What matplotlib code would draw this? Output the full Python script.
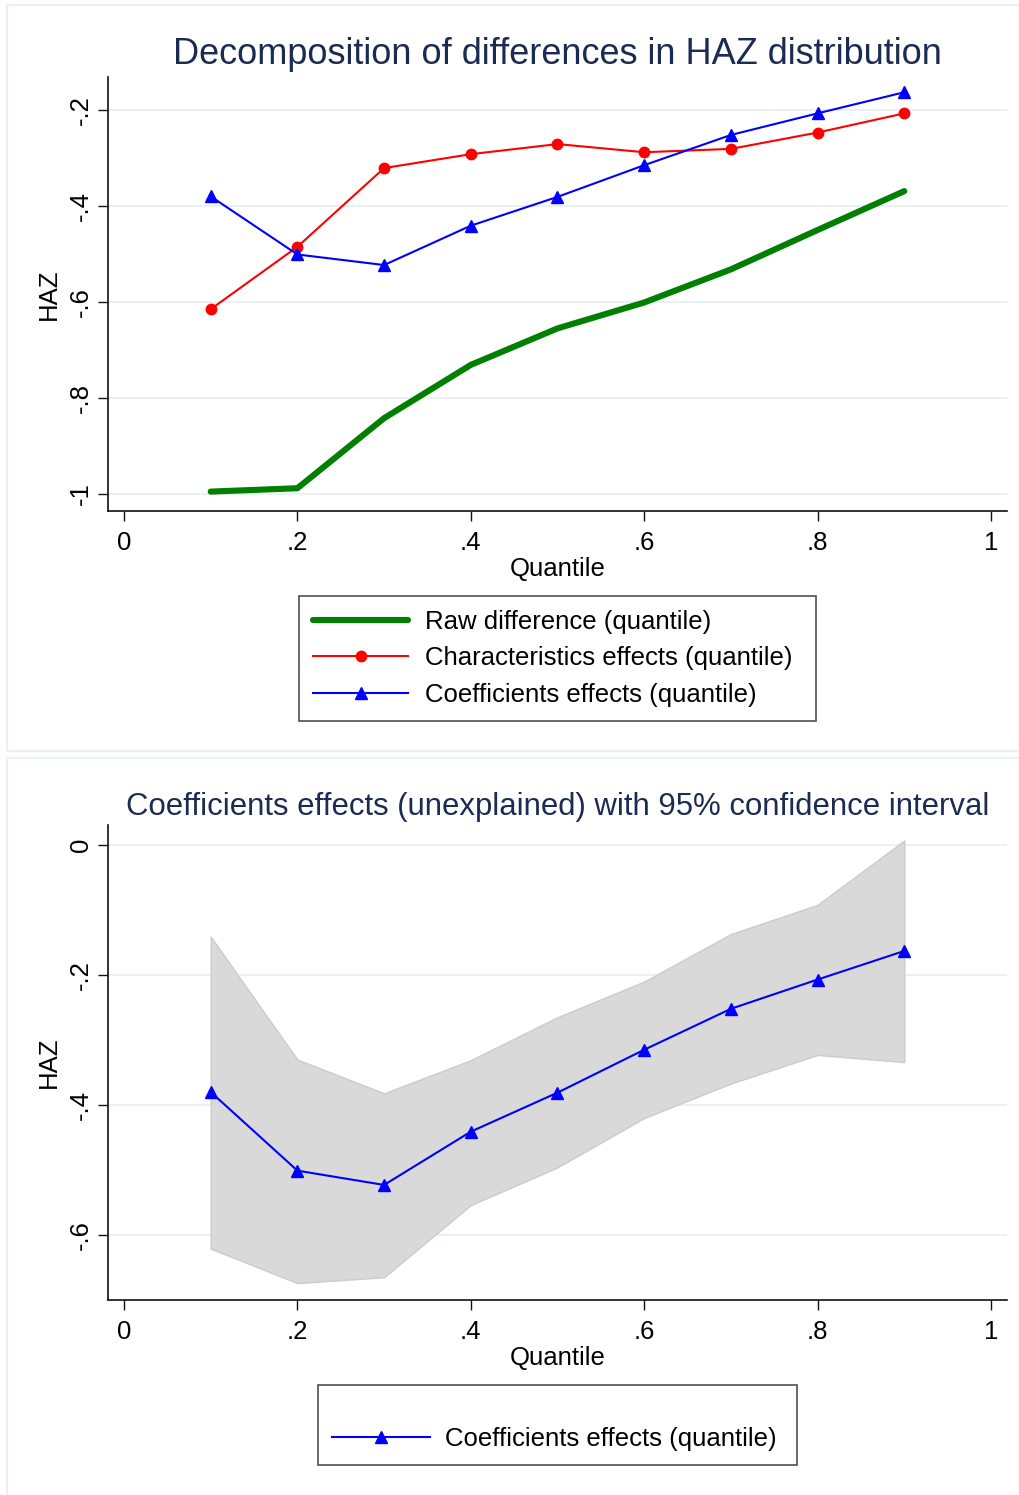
import matplotlib
matplotlib.use("Agg")
import matplotlib.pyplot as plt
from matplotlib.patches import Rectangle

plt.rcParams['font.family'] = ['Liberation Sans', 'DejaVu Sans']

# data
quantiles = [0.1, 0.2, 0.3, 0.4, 0.5, 0.6, 0.7, 0.8, 0.9]
raw_diff = [-0.995, -0.988, -0.842, -0.731, -0.655, -0.601, -0.532, -0.450, -0.369]
char_eff = [-0.615, -0.485, -0.321, -0.292, -0.271, -0.288, -0.281, -0.247, -0.207]
coef_eff = [-0.380, -0.501, -0.523, -0.441, -0.381, -0.315, -0.252, -0.207, -0.163]
coef_lo = [-0.621, -0.674, -0.665, -0.554, -0.496, -0.420, -0.367, -0.323, -0.334]
coef_hi = [-0.141, -0.330, -0.382, -0.331, -0.265, -0.210, -0.137, -0.092, 0.007]

x_ticks = [0, 0.2, 0.4, 0.6, 0.8, 1]
x_ticklabels = ['0', '.2', '.4', '.6', '.8', '1']
top_yticks = [-1, -0.8, -0.6, -0.4, -0.2]
top_yticklabels = ['-1', '-.8', '-.6', '-.4', '-.2']
bot_yticks = [-0.6, -0.4, -0.2, 0]
bot_yticklabels = ['-.6', '-.4', '-.2', '0']

W, H = 1020, 1495
TITLE_COL = '#1c2b52'
GRID_COL = '#e9f1f2'
FS = 18.5


def fx(px):
    return px / W


def fy(py):
    return 1 - py / H


def style_axes(ax, yticks, yticklabels):
    for s in ['top', 'right']:
        ax.spines[s].set_visible(False)
    for s in ['left', 'bottom']:
        ax.spines[s].set_linewidth(1.2)
        ax.spines[s].set_color('#111111')
    ax.set_xlim(-0.01845, 1.01845)
    ax.set_xticks(x_ticks)
    ax.set_xticklabels(x_ticklabels, fontsize=FS)
    ax.set_yticks(yticks)
    ax.set_yticklabels(yticklabels, fontsize=FS, rotation=90, va='center')
    ax.tick_params(direction='out', length=7.5, width=1.0, color='#111111', pad=7)
    ax.tick_params(axis='y', pad=3.5)
    ax.grid(axis='y', color=GRID_COL, linewidth=1.4)
    ax.set_axisbelow(True)
    ax.set_xlabel('Quantile', fontsize=FS, labelpad=1)
    ax.set_ylabel('HAZ', fontsize=FS, labelpad=6)


fig = plt.figure(figsize=(W / 100, H / 100), dpi=100)

# panel frames
fig.patches.append(Rectangle((fx(7), fy(751)), fx(1030 - 7), fy(5) - fy(751),
                             transform=fig.transFigure, fill=False,
                             edgecolor=GRID_COL, linewidth=1.6))
fig.patches.append(Rectangle((fx(7), fy(1505)), fx(1030 - 7), fy(758) - fy(1505),
                             transform=fig.transFigure, fill=False,
                             edgecolor=GRID_COL, linewidth=1.6))

# top panel
ax1 = fig.add_axes([fx(108), fy(511), fx(1007 - 108), fy(77) - fy(511)])
ax1.plot(quantiles, raw_diff, color='#007f00', linewidth=4.4,
         solid_capstyle='round', label='Raw difference (quantile)')
ax1.plot(quantiles, char_eff, color='#ff0000', linewidth=1.5, marker='o',
         markersize=7.5, label='Characteristics effects (quantile)')
ax1.plot(quantiles, coef_eff, color='#0000ff', linewidth=1.5, marker='^',
         markersize=8.5, label='Coefficients effects (quantile)')
ax1.set_ylim(-1.03542, -0.13125)
style_axes(ax1, top_yticks, top_yticklabels)
fig.text(fx(557.5), fy(63.5), 'Decomposition of differences in HAZ distribution',
         ha='center', va='baseline', fontsize=26, color=TITLE_COL)
h, l = ax1.get_legend_handles_labels()
leg1 = fig.legend(h, l, loc='upper left',
                  bbox_to_anchor=(fx(299), fy(716), fx(816 - 299), fy(596) - fy(716)),
                  mode='expand', borderaxespad=0, fontsize=FS, frameon=True,
                  fancybox=False, edgecolor='#222222', handlelength=3.7,
                  handletextpad=0.65, labelspacing=0.475, borderpad=0.55)
leg1.get_frame().set_linewidth(1.2)

# bottom panel
ax2 = fig.add_axes([fx(108), fy(1300), fx(1007 - 108), fy(824.5) - fy(1300)])
ax2.fill_between(quantiles, coef_lo, coef_hi, facecolor='#d9d9d9',
                 edgecolor='#cccccc', linewidth=1.0)
ax2.plot(quantiles, coef_eff, color='#0000ff', linewidth=1.5, marker='^',
         markersize=8.5, label='Coefficients effects (quantile)')
ax2.set_ylim(-0.7, 0.03154)
style_axes(ax2, bot_yticks, bot_yticklabels)
fig.text(fx(557.5), fy(815), 'Coefficients effects (unexplained) with 95% confidence interval',
         ha='center', va='baseline', fontsize=22.4, color=TITLE_COL)
h, l = ax2.get_legend_handles_labels()
leg2 = fig.legend(h, l, loc='upper left',
                  bbox_to_anchor=(fx(318), fy(1468), fx(797 - 318), fy(1385) - fy(1468)),
                  mode='expand', borderaxespad=0, fontsize=FS, frameon=True,
                  fancybox=False, edgecolor='#222222', handlelength=3.8,
                  handletextpad=0.6, borderpad=0.55, title=' ', title_fontsize=12)
leg2.get_frame().set_linewidth(1.2)

fig.savefig('out.png', dpi=100, facecolor='white')
